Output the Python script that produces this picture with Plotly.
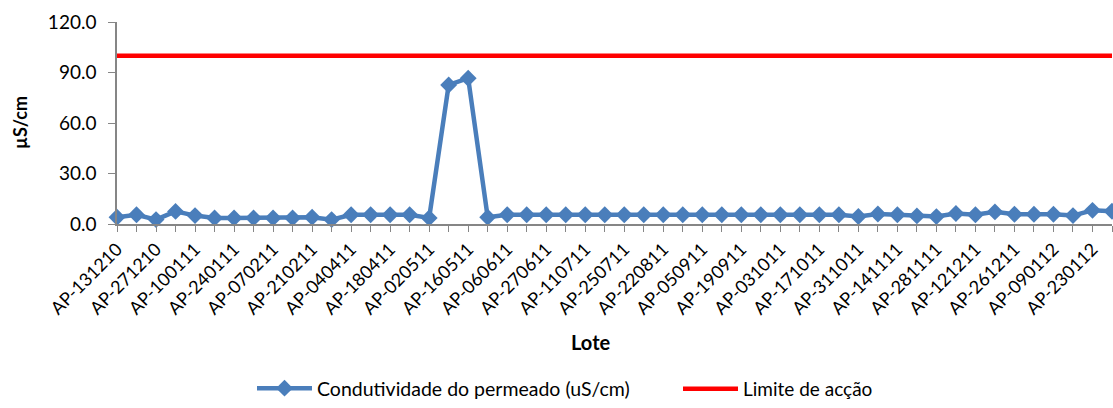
import plotly.graph_objects as go

lotes = [
    "AP-131210", "AP-201210", "AP-271210", "AP-030111", "AP-100111", "AP-170111",
    "AP-240111", "AP-310111", "AP-070211", "AP-140211", "AP-210211", "AP-070311",
    "AP-040411", "AP-110411", "AP-180411", "AP-250411", "AP-020511", "AP-090511",
    "AP-160511", "AP-230511", "AP-060611", "AP-130611", "AP-270611", "AP-040711",
    "AP-110711", "AP-180711", "AP-250711", "AP-080811", "AP-220811", "AP-290811",
    "AP-050911", "AP-120911", "AP-190911", "AP-260911", "AP-031011", "AP-101011",
    "AP-171011", "AP-241011", "AP-311011", "AP-071111", "AP-141111", "AP-211111",
    "AP-281111", "AP-051211", "AP-121211", "AP-191211", "AP-261211", "AP-020112",
    "AP-090112", "AP-160112", "AP-230112", "AP-300112",
]

condutividade = [
    4.0, 5.5, 2.6, 7.5, 5.0, 3.6, 3.6, 3.6, 3.6, 3.6,
    4.0, 2.6, 5.5, 5.5, 5.5, 5.5, 3.6, 82.6, 86.6, 4.0,
    5.5, 5.5, 5.5, 5.5, 5.5, 5.5, 5.5, 5.5, 5.5, 5.5,
    5.5, 5.5, 5.5, 5.5, 5.5, 5.5, 5.5, 5.5, 4.5, 5.9,
    5.5, 4.8, 4.4, 6.2, 5.5, 7.2, 5.8, 5.8, 5.8, 5.0,
    8.1, 7.6,
]

limite = [100.0] * len(lotes)

tick_labels = [l if i % 2 == 0 else "" for i, l in enumerate(lotes)]

FONT = "Lato, 'Open Sans', sans-serif"

fig = go.Figure()
fig.add_trace(go.Scatter(
    x=lotes, y=condutividade, mode="lines+markers",
    name="Condutividade do permeado (uS/cm)",
    line=dict(color="#4a7ebb", width=4.5),
    marker=dict(symbol="diamond", size=13, color="#4a7ebb", line=dict(width=0)),
    cliponaxis=False, legend="legend",
))
fig.add_trace(go.Scatter(
    x=lotes, y=limite, mode="lines",
    name="Limite de acção",
    line=dict(color="#ff0000", width=4.5),
    cliponaxis=False, legend="legend2",
))

leg_common = dict(orientation="h", xref="container", yref="container",
                  xanchor="left", y=0, yanchor="bottom",
                  itemwidth=55, bgcolor="rgba(0,0,0,0)", borderwidth=0)

fig.update_layout(
    width=1113, height=408,
    margin=dict(l=117, r=1, t=22, b=184),
    paper_bgcolor="white", plot_bgcolor="white",
    font=dict(family=FONT, size=16, color="#000000"),
    showlegend=True,
    legend=dict(x=252 / 1113, font=dict(size=19.5), **leg_common),
    legend2=dict(x=678 / 1113, font=dict(size=19), **leg_common),
    annotations=[
        dict(text="<b>Lote</b>", xref="paper", yref="paper",
             x=(591 - 117) / 995, y=-(342 - 224) / 202,
             xanchor="center", yanchor="middle", showarrow=False,
             font=dict(size=20)),
        dict(text="<b>µS/cm</b>", xref="paper", yref="paper",
             x=-(117 - 20) / 995, y=0.5, textangle=-90,
             xanchor="center", yanchor="middle", showarrow=False,
             font=dict(size=18)),
    ],
)

fig.update_xaxes(
    type="category", range=[0, len(lotes) - 1],
    tickmode="array", tickvals=lotes, ticktext=tick_labels,
    tickangle=-45, tickfont=dict(size=18),
    showline=True, linecolor="#868686", linewidth=1.5,
    ticks="outside", ticklen=6, tickcolor="#868686",
    showgrid=False, zeroline=False,
)
fig.update_yaxes(
    range=[0, 120], tickmode="array", tickvals=[0, 30, 60, 90, 120],
    tickformat=".1f", tickfont=dict(size=19), ticklabelstandoff=8,
    showline=True, linecolor="#868686", linewidth=1.5,
    ticks="outside", ticklen=7, tickcolor="#868686",
    showgrid=False, zeroline=False,
)

fig.write_html("out.html")
